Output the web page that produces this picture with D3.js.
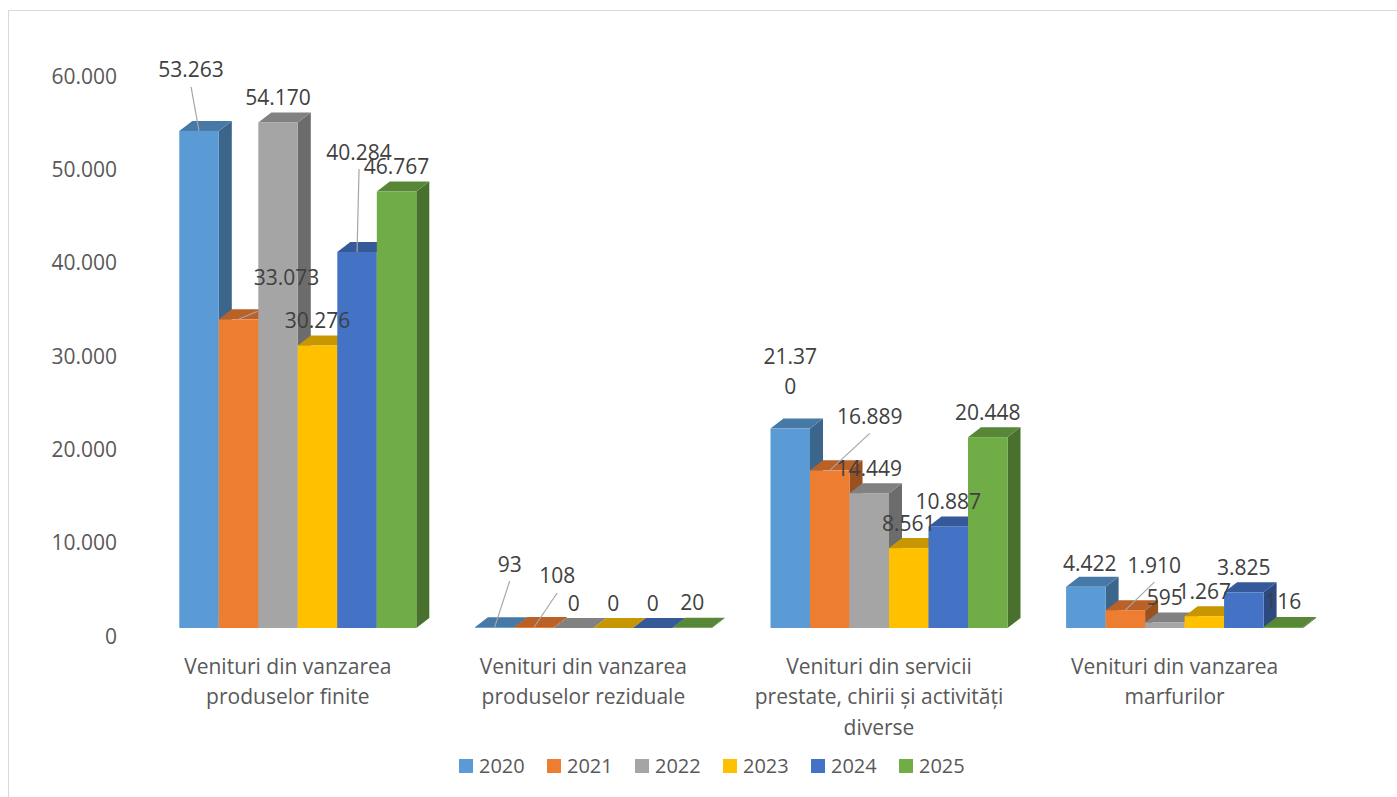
<!DOCTYPE html>
<html>
<head>
<meta charset="utf-8">
<script src="https://cdn.jsdelivr.net/npm/d3@7"></script>
<style>
  html, body { margin: 0; padding: 0; background: #fff; }
  svg { display: block; font-family: "Open Sans", sans-serif; }
</style>
</head>
<body>
<main></main>
<script>
// data
const categories = [
    "Venituri din vanzarea produselor finite",
    "Venituri din vanzarea produselor reziduale",
    "Venituri din servicii prestate, chirii și activități diverse",
    "Venituri din vanzarea marfurilor"
];
const years = ["2020", "2021", "2022", "2023", "2024", "2025"];
const v2020 = [53263, 93, 21370, 4422];
const v2021 = [33073, 108, 16889, 1910];
const v2022 = [54170, 0, 14449, 595];
const v2023 = [30276, 0, 8561, 1267];
const v2024 = [40284, 0, 10887, 3825];
const v2025 = [46767, 20, 20448, 116];
const yTicks = [0, 10000, 20000, 30000, 40000, 50000, 60000];
const colors = ["#5B9BD5", "#ED7D31", "#A5A5A5", "#FFC000", "#4472C4", "#70AD47"];

const seriesValues = [v2020, v2021, v2022, v2023, v2024, v2025];

// labels that Excel moved away from the default spot (series, category)
const labelTweaks = [
    { s: 0, c: 0, dx: -8, dy: -36, leader: true },
    { s: 1, c: 0, dx: 48, dy: -17, leader: true, lx: -29, ly: 34 },
    { s: 4, c: 0, dx: 2, dy: -75, leader: true },
    { s: 0, c: 1, dx: 15, dy: -38, leader: true },
    { s: 1, c: 1, dx: 23, dy: -26, leader: true },
    { s: 0, c: 2, dx: 0, dy: -32, split: 5 },
    { s: 1, c: 2, dx: 40, dy: -29, leader: true },
    { s: 0, c: 3, dx: 4, dy: 2 },
    { s: 1, c: 3, dx: 29, dy: -20, leader: true }
];

const WIDTH = 1397, HEIGHT = 797;
const DX = 13, DY = 10, LIFT = 8;
const GROUP = 237;

const fmt = d3.formatLocale({ decimal: ",", thousands: ".", grouping: [3], currency: ["", ""] }).format(",d");

const svg = d3.select("main").append("svg")
    .attr("width", WIDTH)
    .attr("height", HEIGHT);

svg.append("rect")
    .attr("x", 8.5).attr("y", 10.5)
    .attr("width", WIDTH).attr("height", HEIGHT)
    .attr("fill", "#fff")
    .attr("stroke", "#D9D9D9");

let x0 = d3.scaleBand().domain(categories).range([150, 1332.4]);
let x1 = d3.scaleBand().domain(years).range([0, GROUP]);
let yScale = d3.scaleLinear().domain([0, 60000]).range([636, 76]);

// y axis labels, no line
svg.append("g")
    .selectAll("text")
    .data(yTicks)
    .join("text")
    .attr("x", 117)
    .attr("y", d => yScale(d) + 7.5)
    .attr("text-anchor", "end")
    .attr("font-size", 21)
    .attr("fill", "#595959")
    .text(d => fmt(d));

const barX = (s, c) => x0(categories[c]) + (x0.bandwidth() - GROUP) / 2 + x1(years[s]);
const barTop = (s, c) => yScale(seriesValues[s][c]) - LIFT;
const bottom = yScale(0) - LIFT;

let bars = [];
categories.forEach((cat, c) => {
    years.forEach((yr, s) => bars.push({ s, c }));
});

const poly = pts => pts.map(p => p.join(",")).join(" ");
const w = x1.bandwidth();

let barG = svg.append("g")
    .selectAll("g")
    .data(bars)
    .join("g");

barG.append("polygon")
    .attr("points", d => {
        const x = barX(d.s, d.c) + w, t = barTop(d.s, d.c);
        return poly([[x, t], [x + DX, t - DY], [x + DX, bottom - DY], [x, bottom]]);
    })
    .attr("fill", d => d3.color(colors[d.s]).darker(1.2));

barG.append("polygon")
    .attr("points", d => {
        const x = barX(d.s, d.c), t = barTop(d.s, d.c);
        return poly([[x, t], [x + DX, t - DY], [x + w + DX, t - DY], [x + w, t]]);
    })
    .attr("fill", d => d3.color(colors[d.s]).darker(0.7));

barG.append("rect")
    .attr("x", d => barX(d.s, d.c))
    .attr("y", d => barTop(d.s, d.c))
    .attr("width", w)
    .attr("height", d => bottom - barTop(d.s, d.c))
    .attr("fill", d => colors[d.s]);

// data labels
let labels = bars.map(d => {
    const tw = labelTweaks.find(t => t.s === d.s && t.c === d.c) || {};
    const ax = barX(d.s, d.c) + w / 2;
    const ay = barTop(d.s, d.c);
    return Object.assign({}, d, {
        ax, ay,
        cx: ax + (tw.dx || 0),
        cy: ay - 25 + (tw.dy || 0),
        tw,
        text: fmt(seriesValues[d.s][d.c])
    });
});

svg.append("g")
    .selectAll("line")
    .data(labels.filter(d => d.tw.leader))
    .join("line")
    .attr("x1", d => d.cx + (d.tw.lx || 0))
    .attr("y1", d => d.cy + (d.tw.ly || 17))
    .attr("x2", d => d.ax)
    .attr("y2", d => d.ay)
    .attr("stroke", "#A6A6A6")
    .attr("stroke-width", 1.2);

let labelText = svg.append("g")
    .selectAll("text")
    .data(labels)
    .join("text")
    .attr("text-anchor", "middle")
    .attr("font-size", 21)
    .attr("fill", "#404040");

labelText.each(function (d) {
    const t = d3.select(this);
    if (d.tw.split) {
        const parts = [d.text.slice(0, d.tw.split), d.text.slice(d.tw.split)];
        parts.forEach((p, i) => {
            t.append("tspan")
                .attr("x", d.cx)
                .attr("y", d.cy + 7.5 + (i - 0.5) * 29.5)
                .text(p);
        });
    } else {
        t.attr("x", d.cx).attr("y", d.cy + 7.5).text(d.text);
    }
});

// category labels with wrapping
let catText = svg.append("g")
    .selectAll("text")
    .data(categories)
    .join("text")
    .attr("text-anchor", "middle")
    .attr("font-size", 21)
    .attr("fill", "#595959");

catText.each(function (d) {
    const t = d3.select(this);
    const cx = x0(d) + x0.bandwidth() / 2 - 10;
    const words = d.split(" ");
    let lines = [], line = [];
    const probe = t.append("tspan");
    words.forEach(wd => {
        const test = line.concat(wd).join(" ");
        probe.text(test);
        if (probe.node().getComputedTextLength() > 262 && line.length) {
            lines.push(line.join(" "));
            line = [wd];
        } else {
            line.push(wd);
        }
    });
    lines.push(line.join(" "));
    probe.remove();
    lines.forEach((ln, i) => {
        t.append("tspan")
            .attr("x", cx)
            .attr("y", 673.5 + i * 30.5)
            .text(ln);
    });
});

// legend
let legendX = d3.scaleBand().domain(years).range([459, 459 + 6 * 88]);
let legend = svg.append("g")
    .selectAll("g")
    .data(years)
    .join("g")
    .attr("transform", d => `translate(${legendX(d)}, 759)`);

legend.append("rect")
    .attr("width", 14)
    .attr("height", 14)
    .attr("fill", (d, i) => colors[i]);

legend.append("text")
    .attr("x", 20)
    .attr("y", 14)
    .attr("font-size", 20)
    .attr("fill", "#595959")
    .text(d => d);
</script>
</body>
</html>
